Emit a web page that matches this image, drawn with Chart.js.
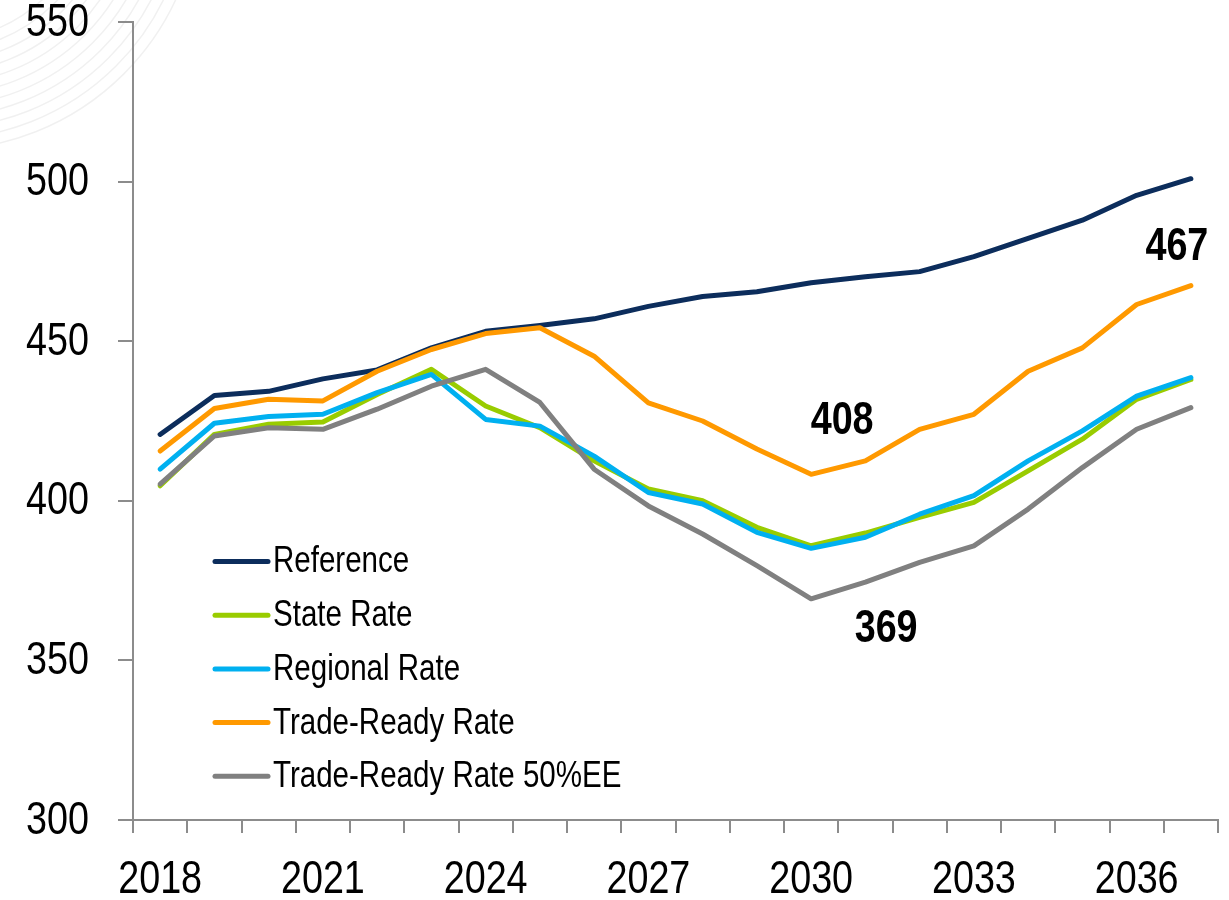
<!DOCTYPE html>
<html>
<head>
<meta charset="utf-8">
<script src="https://cdn.jsdelivr.net/npm/chart.js@4.4.1/dist/chart.umd.min.js"></script>
<style>
  html, body { margin: 0; padding: 0; background: #fff; }
  #wrap { width: 1229px; height: 900px; position: relative; }
</style>
</head>
<body>
<div id="wrap"><canvas id="chart"></canvas></div>
<script>
const years = ["2018","2019","2020","2021","2022","2023","2024","2025","2026","2027",
               "2028","2029","2030","2031","2032","2033","2034","2035","2036","2037"];
const shownYears = ["2018","2021","2024","2027","2030","2033","2036"];

const reference    = [420.8, 433.0, 434.3, 438.2, 441.0, 447.9, 453.1, 454.9, 457.0, 460.9,
                      464.0, 465.5, 468.3, 470.2, 471.8, 476.5, 482.2, 487.9, 495.7, 500.9];
const stateRate    = [404.7, 420.8, 424.0, 424.7, 433.3, 441.2, 429.7, 422.9, 412.5, 403.7,
                      400.0, 391.7, 385.9, 389.9, 394.8, 399.5, 409.4, 419.3, 431.8, 438.0];
const regionalRate = [409.9, 424.3, 426.4, 427.1, 433.9, 439.6, 425.5, 423.4, 414.0, 402.6,
                      399.0, 390.1, 385.1, 388.6, 395.8, 401.6, 412.5, 421.9, 432.8, 438.6];
const tradeReady   = [415.6, 428.9, 431.8, 431.3, 440.6, 447.4, 452.4, 454.2, 445.3, 430.7,
                      425.0, 416.2, 408.3, 412.5, 422.4, 427.1, 440.6, 447.9, 461.5, 467.4];
const tradeReady50 = [405.2, 420.3, 422.9, 422.4, 428.7, 435.9, 441.2, 430.8, 409.9, 398.4,
                      389.6, 379.7, 369.3, 374.5, 380.7, 385.9, 397.4, 410.4, 422.4, 429.2];

// Arial Narrow look: Liberation Sans squeezed horizontally
const FONT = '"Liberation Sans", Arial, sans-serif';
const NARROW = 0.82;
const AXIS = "#8c8c8c";

// callouts: dataset index, point index, offset of text centre from the point
const callouts = [
  { ds: 3, idx: 12, dx: 31, dy: -53 },
  { ds: 4, idx: 12, dx: 75, dy: 31 },
  { ds: 3, idx: 19, dx: -14, dy: -38 },
];

function narrowText(ctx, text, x, y, align) {
  ctx.save();
  ctx.translate(x, y);
  ctx.scale(NARROW, 1);
  ctx.textAlign = align;
  ctx.fillText(text, 0, 0);
  ctx.restore();
}

function line(label, data, color, order) {
  return {
    label, data, borderColor: color, backgroundColor: color,
    borderWidth: 5, pointRadius: 0, tension: 0, order,
    borderCapStyle: "round", borderJoinStyle: "round",
  };
}

// faint swirl in the top left corner
const swirlPlugin = {
  id: "swirl",
  beforeDraw(chart) {
    const { ctx } = chart;
    ctx.save();
    ctx.strokeStyle = "rgba(0,0,0,0.06)";
    ctx.lineWidth = 1.5;
    for (let r = 150; r <= 260; r += 11) {
      ctx.beginPath();
      ctx.arc(-60, -110, r, 0, Math.PI / 2);
      ctx.stroke();
    }
    ctx.restore();
  },
};

// axis labels, drawn at the scales' own tick positions
const axisLabelPlugin = {
  id: "axisLabels",
  afterDraw(chart) {
    const { ctx } = chart;
    const xs = chart.scales.x, ys = chart.scales.y;
    ctx.save();
    ctx.font = "46px " + FONT;
    ctx.fillStyle = "#000";
    ctx.textBaseline = "middle";
    ys.ticks.forEach((t, i) => {
      narrowText(ctx, String(t.value), 89, ys.getPixelForTick(i) + 1, "right");
    });
    xs.ticks.forEach((t, i) => {
      const lab = years[t.value];
      if (shownYears.includes(lab)) {
        narrowText(ctx, lab, xs.getPixelForValue(t.value), 880, "center");
      }
    });
    ctx.restore();
  },
};

const calloutPlugin = {
  id: "callouts",
  afterDatasetsDraw(chart) {
    const { ctx } = chart;
    ctx.save();
    ctx.font = "bold 46px " + FONT;
    ctx.fillStyle = "#000";
    ctx.textBaseline = "middle";
    callouts.forEach(c => {
      const pt = chart.getDatasetMeta(c.ds).data[c.idx];
      const v = chart.data.datasets[c.ds].data[c.idx];
      narrowText(ctx, String(Math.round(v)), pt.x + c.dx, pt.y + c.dy, "center");
    });
    ctx.restore();
  },
};

// legend drawn inside the plot, lower left
const legendPlugin = {
  id: "insideLegend",
  afterDraw(chart) {
    const { ctx } = chart;
    const x0 = 215, x1 = 268, y0 = 561.5, gap = 53.7;
    ctx.save();
    ctx.font = "36px " + FONT;
    ctx.textBaseline = "middle";
    chart.data.datasets.forEach((ds, i) => {
      const y = y0 + i * gap;
      ctx.strokeStyle = ds.borderColor;
      ctx.lineWidth = 5;
      ctx.lineCap = "round";
      ctx.beginPath();
      ctx.moveTo(x0, y);
      ctx.lineTo(x1, y);
      ctx.stroke();
      ctx.fillStyle = "#000";
      narrowText(ctx, ds.label, x1 + 5, y + 1, "left");
    });
    ctx.restore();
  },
};

new Chart(document.getElementById("chart"), {
  type: "line",
  data: {
    labels: years,
    datasets: [
      line("Reference", reference, "#0c2d5c", 5),
      line("State Rate", stateRate, "#99cc00", 4),
      line("Regional Rate", regionalRate, "#00b0f0", 3),
      line("Trade-Ready Rate", tradeReady, "#ff9900", 2),
      line("Trade-Ready Rate 50%EE", tradeReady50, "#808080", 1),
    ],
  },
  options: {
    responsive: true,
    maintainAspectRatio: false,
    animation: false,
    layout: { padding: { top: 22, right: 11, bottom: 0, left: 0 } },
    plugins: { legend: { display: false }, tooltip: { enabled: false } },
    scales: {
      x: {
        offset: true,
        afterFit(s) { s.height = 80; },
        border: { color: AXIS, width: 2 },
        grid: { offset: true, drawOnChartArea: false, color: AXIS, lineWidth: 2, tickLength: 13 },
        ticks: { display: false, autoSkip: false },
      },
      y: {
        min: 300, max: 550,
        afterFit(s) { s.width = 133; },
        border: { color: AXIS, width: 2 },
        grid: { drawOnChartArea: false, color: AXIS, lineWidth: 2, tickLength: 15 },
        ticks: { display: false, stepSize: 50 },
      },
    },
  },
  plugins: [swirlPlugin, calloutPlugin, axisLabelPlugin, legendPlugin],
});
</script>
</body>
</html>
